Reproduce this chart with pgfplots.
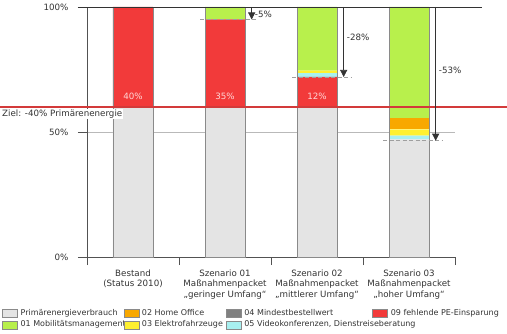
\documentclass[border=0pt]{standalone}
\usepackage{fontspec}
\setmainfont{DejaVu Sans}
\usepackage{pgfplots}
\pgfplotsset{compat=1.18}
\usetikzlibrary{arrows.meta}
\definecolor{cGray}{HTML}{E4E4E4}
\definecolor{cRed}{HTML}{F23A3A}
\definecolor{cCyan}{HTML}{A8F0F0}
\definecolor{cDark}{HTML}{808080}
\definecolor{cYellow}{HTML}{FFF030}
\definecolor{cOrange}{HTML}{F8A800}
\definecolor{cGreen}{HTML}{B8F04C}
\definecolor{cText}{HTML}{333333}
\definecolor{cZiel}{HTML}{D33A3A}
\definecolor{cPink}{HTML}{FFD6D6}
\definecolor{cEdge}{HTML}{8A8A8A}
\pgfplotsset{mybox/.style={legend image code/.code={\draw[##1] (0bp,-4bp) rectangle (15bp,4bp);}}}
\newcommand{\fa}{\fontsize{8.7bp}{10.5bp}\selectfont}
\newcommand{\fl}{\fontsize{8bp}{9.6bp}\selectfont}
\begin{document}
\begin{tikzpicture}
\useasboundingbox (-87bp,-77bp) rectangle (420bp,257bp);
\begin{axis}[
 at={(0,0)}, anchor=south west, scale only axis, width=368bp, height=250bp,
 xmin=-0.5, xmax=3.5, ymin=0, ymax=100,
 ybar stacked, bar width=40bp,
 axis x line*=bottom, axis y line*=left,
 axis line style={draw=cText!85, line width=0.7bp},
 tick align=outside, major tick length=9bp, minor tick length=8bp,
 tick style={draw=cText!85, line width=0.7bp},
 xtick={0,1,2,3}, minor xtick={-0.5,0.5,1.5,2.5,3.5},
 major x tick style={draw=none},
 xticklabels={{Bestand\\(Status 2010)},{Szenario 01\\Maßnahmenpacket\\„geringer Umfang“},{Szenario 02\\Maßnahmenpacket\\„mittlerer Umfang“},{Szenario 03\\Maßnahmenpacket\\„hoher Umfang“}},
 xticklabel style={align=center, font=\fa, text=cText},
 ytick={0,50,100}, yticklabels={0\%,50\%,100\%},
 yticklabel style={font=\fa, text=cText, xshift=-6bp},
 ymajorgrids, major grid style={draw=gray!55, line width=0.8bp},
 legend columns=4,
 legend cell align=left,
 legend style={at={(axis description cs:0,0)}, anchor=north west, xshift=-85bp, yshift=-51bp,
   draw=none, fill=none, inner sep=0pt, column sep=0pt, row sep=1.5bp,
   nodes={inner sep=1bp, text height=6bp, text depth=2bp, font=\fl, text=cText}},
]
\addplot[fill=cGray, draw=none, forget plot] coordinates {(0,60) (1,60) (2,60) (3,47)};
\addplot[fill=cRed, draw=none, forget plot] coordinates {(0,40) (1,35) (2,12) (3,0)};
\addplot[fill=cCyan, draw=none, forget plot] coordinates {(0,0) (1,0) (2,1.5) (3,1.5)};
\addplot[fill=cDark, draw=none, forget plot] coordinates {(0,0) (1,0) (2,0) (3,0)};
\addplot[fill=cYellow, draw=none, forget plot] coordinates {(0,0) (1,0) (2,1) (3,2.5)};
\addplot[fill=cOrange, draw=none, forget plot] coordinates {(0,0) (1,0) (2,0) (3,4.5)};
\addplot[fill=cGreen, draw=none, forget plot] coordinates {(0,0) (1,5) (2,25.5) (3,44.5)};
\addlegendimage{mybox, fill=cGray, draw=cEdge}
\addlegendentry{\makebox[104bp][l]{\hspace{2bp}Primärenergieverbrauch}}
\addlegendimage{mybox, fill=cOrange, draw=cEdge}
\addlegendentry{\makebox[85bp][l]{\hspace{2bp}02 Home Office}}
\addlegendimage{mybox, fill=cDark, draw=cEdge}
\addlegendentry{\makebox[129bp][l]{\hspace{2bp}04 Mindestbestellwert}}
\addlegendimage{mybox, fill=cRed, draw=cEdge}
\addlegendentry{\hspace{2bp}09 fehlende PE-Einsparung}
\addlegendimage{mybox, fill=cGreen, draw=cEdge}
\addlegendentry{\makebox[104bp][l]{\hspace{2bp}01 Mobilitätsmanagement}}
\addlegendimage{mybox, fill=cYellow, draw=cEdge}
\addlegendentry{\makebox[85bp][l]{\hspace{2bp}03 Elektrofahrzeuge}}
\addlegendimage{mybox, fill=cCyan, draw=cEdge}
\addlegendentry{\makebox[129bp][l]{\hspace{2bp}05 Videokonferenzen, Dienstreiseberatung}}
\end{axis}
\begin{axis}[
 at={(0,0)}, anchor=south west, scale only axis, width=368bp, height=250bp,
 xmin=-0.5, xmax=3.5, ymin=0, ymax=100, hide axis, clip=false,
 ybar, bar width=40bp,
]
\addplot[fill=none, draw=cEdge, line width=0.8bp] coordinates {(0,100) (1,100) (2,100) (3,100)};
% top line
\draw[cText, line width=0.8bp] ([xshift=-9bp]axis cs:-0.5,100) -- ([xshift=27bp]axis cs:3.5,100);
% target line
\draw[cZiel, line width=1.6bp] ([xshift=-87bp]axis cs:-0.5,60) -- ([xshift=52bp]axis cs:3.5,60);
\node[anchor=north west, fill=white, inner sep=1bp, text=cText, font=\fa] at ([xshift=-86bp,yshift=-1.5bp]axis cs:-0.5,60) {Ziel: -40\% Primärenenergie};
% percentages
\node[text=cPink, font=\fa] at (axis cs:0,64.4) {40\%};
\node[text=cPink, font=\fa] at (axis cs:1,64.4) {35\%};
\node[text=cPink, font=\fa] at (axis cs:2,64.4) {12\%};
% dashed reduction lines
\draw[gray!75, line width=0.8bp, dash pattern=on 4bp off 2.5bp] (axis cs:0.73,95) -- (axis cs:1.36,95);
\draw[gray!75, line width=0.8bp, dash pattern=on 4bp off 2.5bp] (axis cs:1.73,72) -- (axis cs:2.38,72);
\draw[gray!75, line width=0.8bp, dash pattern=on 4bp off 2.5bp] (axis cs:2.72,46.5) -- (axis cs:3.37,46.5);
% arrows
\draw[cText, line width=0.6bp, -{Triangle[width=7bp,length=7bp]}] (axis cs:1.29,100) -- (axis cs:1.29,95);
\draw[cText, line width=0.6bp, -{Triangle[width=7bp,length=7bp]}] (axis cs:2.29,100) -- (axis cs:2.29,72);
\draw[cText, line width=0.6bp, -{Triangle[width=7bp,length=7bp]}] (axis cs:3.29,100) -- (axis cs:3.29,46.5);
\node[anchor=west, inner sep=1bp, text=cText, font=\fa] at ([xshift=2bp]axis cs:1.29,97) {-5\%};
\node[anchor=west, inner sep=1bp, text=cText, font=\fa] at ([xshift=2bp]axis cs:2.29,88) {-28\%};
\node[anchor=west, inner sep=1bp, text=cText, font=\fa] at ([xshift=2bp]axis cs:3.29,74.8) {-53\%};
\end{axis}
\end{tikzpicture}
\end{document}
